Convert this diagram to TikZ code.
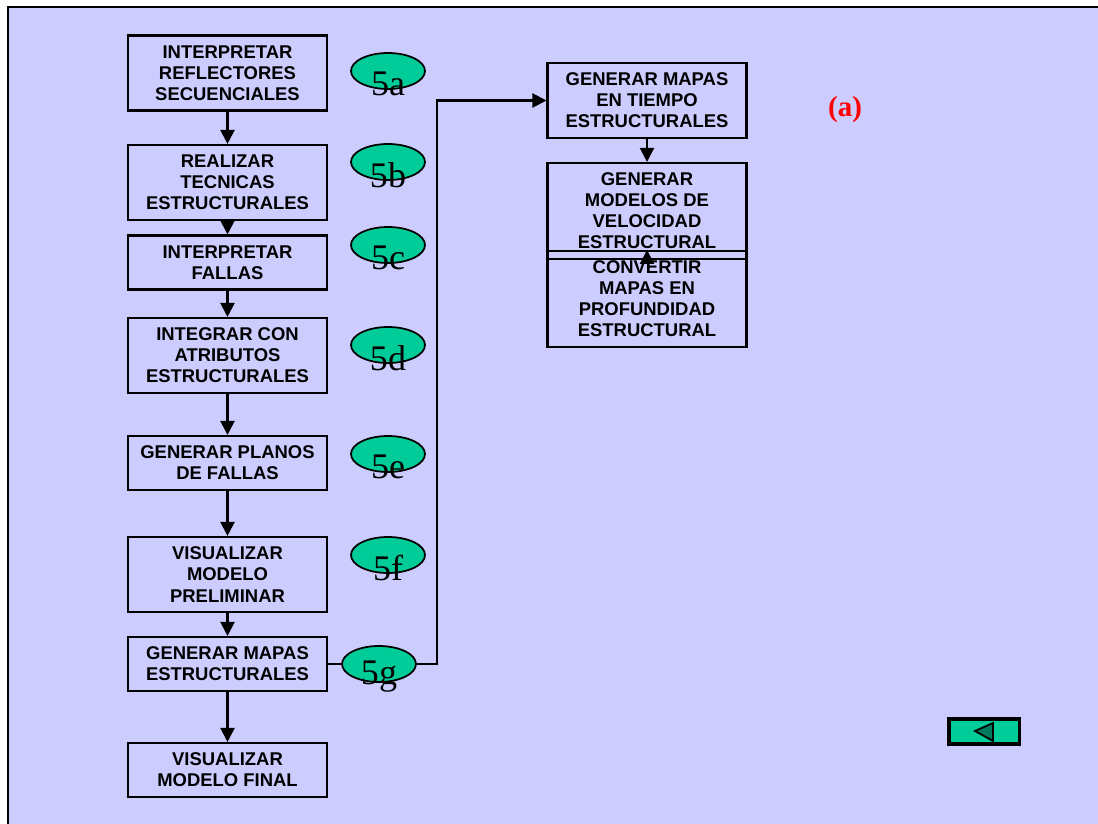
\documentclass[tikz,border=0pt]{standalone}
\usepackage{fontspec}
\setmainfont{Liberation Serif}
\setsansfont{Liberation Sans}
\usetikzlibrary{shapes.geometric,arrows.meta}
\definecolor{fondo}{HTML}{CCCCFF}
\definecolor{verde}{HTML}{00CC99}
\definecolor{verdeosc}{HTML}{007A5E}

\begin{document}
\begin{tikzpicture}[x=0.02cm,y=-0.02cm,
  caja/.style={draw,line width=1.2pt,minimum width=3.98cm,inner sep=0pt,align=center,
    font=\fontsize{10.5}{12}\selectfont\sffamily\bfseries},
  alta/.style={caja,minimum height=1.5cm},
  baja/.style={caja,minimum height=1.08cm},
  larga/.style={caja,minimum height=1.92cm},
  paso/.style={ellipse,draw,line width=1pt,fill=verde,inner sep=0pt,
    minimum width=1.48cm,minimum height=0.72cm},
  num/.style={font=\fontsize{20.5}{24}\selectfont,yshift=-0.26cm,inner sep=0pt},
  flecha/.style={line width=1.2pt,-{Triangle[length=0.28cm,width=0.28cm]}},
  linea/.style={line width=1.2pt}]
  % fondo y marco
  \useasboundingbox (0,0) rectangle (1098,824);
  \fill[fondo] (8,7) rectangle (1098,824);
  \draw[line width=1.3pt] (8,824) -- (8,7) -- (1098,7);

  % columna izquierda
  \node[alta] (s1) at (227.5,73) {INTERPRETAR\\REFLECTORES\\SECUENCIALES};
  \node[alta] (s2) at (227.5,182.5) {REALIZAR\\TECNICAS\\ESTRUCTURALES};
  \node[baja] (s3) at (227.5,262.5) {INTERPRETAR\\FALLAS};
  \node[alta] (s4) at (227.5,355.5) {INTEGRAR CON\\ATRIBUTOS\\ESTRUCTURALES};
  \node[baja] (s5) at (227.5,463) {GENERAR PLANOS\\DE FALLAS};
  \node[alta] (s6) at (227.5,574.5) {VISUALIZAR\\MODELO\\PRELIMINAR};
  \node[baja] (s7) at (227.5,664) {GENERAR MAPAS\\ESTRUCTURALES};
  \node[baja] (s8) at (227.5,770) {VISUALIZAR\\MODELO FINAL};
  \foreach \a/\b in {s1/s2,s2/s3,s3/s4,s4/s5,s5/s6,s6/s7,s7/s8}
    \draw[flecha] (\a) -- (\b);

  % etiquetas de paso
  \foreach \t/\y in {a/71,b/162,c/245,d/345,e/454,f/555}
    \node[paso,label={[num]center:5\t}] (e5\t) at (388,\y) {};
  \node[paso,label={[num]center:5g}] (e5g) at (379,664) {};

  % columna derecha
  \node[alta] (r1) at (647,100.5) {GENERAR MAPAS\\EN TIEMPO\\ESTRUCTURALES};
  \node[larga] (r2) at (647,211) {GENERAR\\MODELOS DE\\VELOCIDAD\\ESTRUCTURAL};
  \node[larga] (r3) at (647,299) {CONVERTIR\\MAPAS EN\\PROFUNDIDAD\\ESTRUCTURAL};
  \draw[flecha] (r1) -- (r2);
  \draw[flecha] (r2) -- (r3);

  % enlace 5g
  \coordinate (codo) at (437,100.5);
  \draw[linea] (s7) -- (e5g);
  \draw[flecha] (e5g) -| (codo) -- (r1);

  \node[red,font=\fontsize{16.5}{19}\selectfont\bfseries] (marca) at (845,110) {(a)};

  % boton de regreso
  \node[draw,line width=2pt,fill=verde,minimum width=1.41cm,minimum height=0.51cm] (volver) at (984,731.5) {};
  \fill[verdeosc,draw=black,line width=1pt] (975,731) -- (993,723) -- (993,741) -- cycle;
\end{tikzpicture}
\end{document}
